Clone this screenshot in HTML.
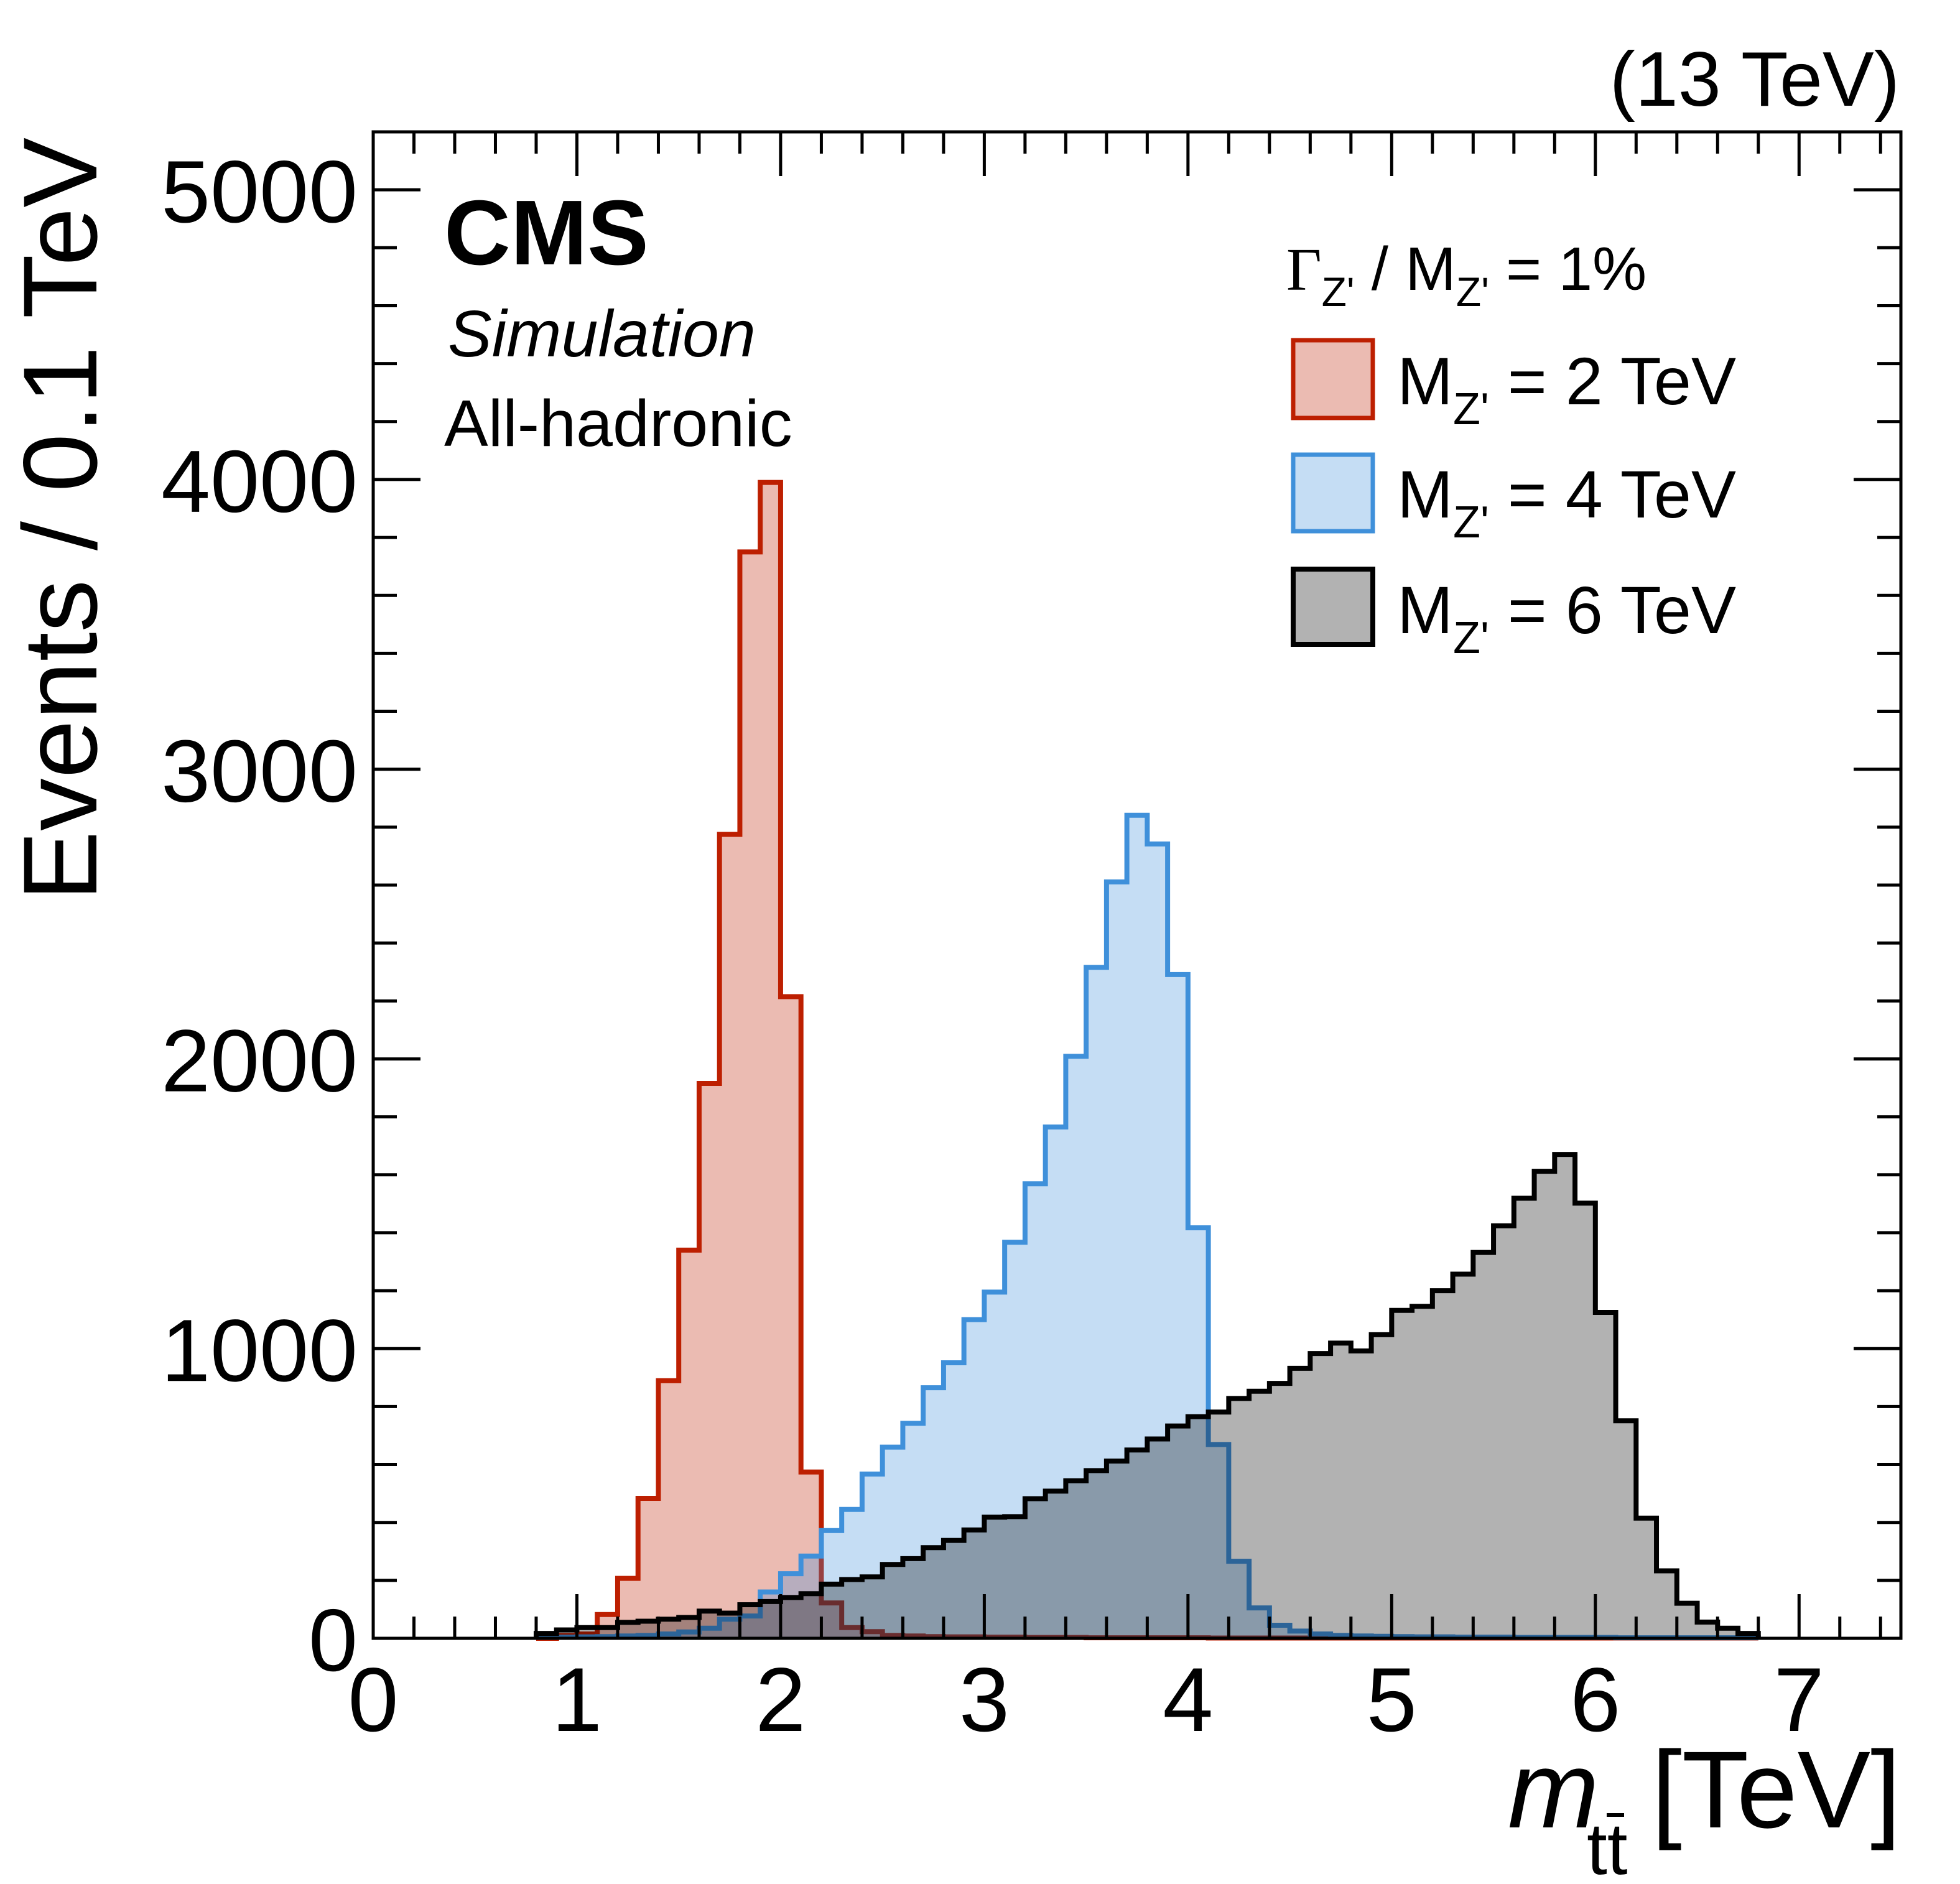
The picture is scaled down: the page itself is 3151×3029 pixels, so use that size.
<!DOCTYPE html>
<html><head><meta charset="utf-8"><style>
html,body{margin:0;padding:0;background:#fff;}
svg{display:block;font-family:"Liberation Sans",Arial,sans-serif;}
</style></head><body>
<svg id="chart" width="3151" height="3029" viewBox="0 0 3151 3029" xmlns="http://www.w3.org/2000/svg">
<rect width="3151" height="3029" fill="#fff"/>
<g id="hists"></g>
<g id="frame"></g>
<g id="xlabels"></g>
<g id="ylabels"></g>
<text transform="translate(155,221) rotate(-90)" text-anchor="end" font-size="169">Events / 0.1 TeV</text>
<g>
<text x="2424" y="2938" font-size="176" font-style="italic">m</text>
<text x="2551" y="3013" font-size="118">tt</text>
<line x1="2583" y1="2918" x2="2611" y2="2918" stroke="#000" stroke-width="6"/>
<text x="3056" y="2938" font-size="176" text-anchor="end">[TeV]</text>
</g>
<text x="3054" y="170" font-size="124" text-anchor="end">(13 TeV)</text>
<text x="714" y="425" font-size="148" font-weight="bold">CMS</text>
<text x="720" y="573" font-size="106" font-style="italic">Simulation</text>
<text x="714" y="717" font-size="106">All-hadronic</text>
<g>
<text x="2068" y="466" font-size="98"><tspan font-family="'Liberation Serif',serif">Γ</tspan><tspan font-size="66" dy="26">Z'</tspan><tspan dy="-26"> / M</tspan><tspan font-size="66" dy="26">Z'</tspan><tspan dy="-26"> = 1%</tspan></text>
<g>
<rect x="2079" y="547" width="128" height="125" fill="rgba(189,31,1,0.3)" stroke="#bd1f01" stroke-width="7"/>
<text x="2246" y="650" font-size="108">M<tspan font-size="72" dy="32">Z'</tspan><tspan dy="-32"> = 2 TeV</tspan></text></g>
<g>
<rect x="2079" y="731" width="128" height="123" fill="rgba(63,144,218,0.3)" stroke="#3f90da" stroke-width="7"/>
<text x="2246" y="832" font-size="108">M<tspan font-size="72" dy="32">Z'</tspan><tspan dy="-32"> = 4 TeV</tspan></text></g>
<g>
<rect x="2079" y="915" width="128" height="121" fill="rgba(0,0,0,0.3)" stroke="#000" stroke-width="8"/>
<text x="2246" y="1018" font-size="108">M<tspan font-size="72" dy="32">Z'</tspan><tspan dy="-32"> = 6 TeV</tspan></text></g>
</g>
</svg>
<script>
const binStart = 0.8;
const binWidth = 0.1;
const red2TeV = [0,10,15,82,207,483,889,1340,1915,2775,3750,3990,2215,574,122,37,23,10,8,6,5,5,4,4,3,3,3,2,2,2,2,2,2,1,1,1,1,1,1,1,1,1,1,1,1,1,1,1,1,1,1,1,1,1,1,1,1,1,1,1];
const blue4TeV = [3,4,5,6,8,10,15,22,35,66,77,160,223,284,372,445,567,660,742,865,951,1100,1195,1367,1569,1765,2009,2316,2611,2841,2742,2291,1417,669,266,105,45,25,15,10,8,7,6,5,5,4,4,4,3,3,3,3,3,2,2,2,2,2,2,2];
const black6TeV = [17,29,37,37,55,59,66,72,94,87,116,127,141,154,187,203,212,255,275,313,338,374,418,420,482,508,544,579,612,650,688,733,765,781,828,853,880,932,983,1019,992,1048,1132,1146,1200,1257,1332,1424,1519,1612,1670,1502,1125,751,415,233,121,56,35,17];
const xTicks = [0,1,2,3,4,5,6,7];
const yTicks = [0,1000,2000,3000,4000,5000];

const NS = "http://www.w3.org/2000/svg";
const X0 = 600, X1 = 3056, Y0 = 2634, Y1 = 212;
const xMax = 7.5, yMax = 5200;
function xs(v){ return X0 + (X1 - X0) * v / xMax; }
function ys(v){ return Y0 - (Y0 - Y1) * v / yMax; }
function mk(tag, attrs, parent){ const e = document.createElementNS(NS, tag); for (const k in attrs) e.setAttribute(k, attrs[k]); parent.appendChild(e); return e; }

const hists = document.getElementById('hists');
function drawHist(vals, fill, stroke, name){
  let d = "M" + xs(binStart) + "," + ys(0);
  for (let i = 0; i < vals.length; i++){
    const lo = binStart + i * binWidth, hi = lo + binWidth;
    d += " L" + xs(lo) + "," + ys(vals[i]) + " L" + xs(hi) + "," + ys(vals[i]);
  }
  d += " L" + xs(binStart + vals.length * binWidth) + "," + ys(0);
  const f = mk('path', {d: d + " Z", fill: fill, stroke: "none"}, hists);
  
  
  const l = mk('path', {d: d, fill: "none", stroke: stroke, "stroke-width": 8, "stroke-linejoin": "miter", "stroke-linecap": "butt"}, hists);
  
  
}
drawHist(red2TeV, "rgba(189,31,1,0.3)", "#bd1f01", "hist-2tev");
drawHist(blue4TeV, "rgba(63,144,218,0.3)", "#3f90da", "hist-4tev");
drawHist(black6TeV, "rgba(0,0,0,0.3)", "#000000", "hist-6tev");

const frame = document.getElementById('frame');
const box = mk('rect', {x: X0, y: Y1, width: X1 - X0, height: Y0 - Y1, fill: "none", stroke: "#000", "stroke-width": 5}, frame);


for (let k = 0; k <= 37; k++){
  const v = k * 0.2, x = xs(v), major = (k % 5 === 0), L = major ? 71 : 35;
  const t1 = mk('line', {x1: x, y1: Y0, x2: x, y2: Y0 - L, stroke: "#000", "stroke-width": 5}, frame);
  
  
  const t2 = mk('line', {x1: x, y1: Y1, x2: x, y2: Y1 + L, stroke: "#000", "stroke-width": 5}, frame);
  
  
}
for (let k = 0; k <= 26; k++){
  const v = k * 200, y = ys(v), major = (k % 5 === 0), L = major ? 76 : 38;
  const t1 = mk('line', {x1: X0, y1: y, x2: X0 + L, y2: y, stroke: "#000", "stroke-width": 5}, frame);
  
  
  const t2 = mk('line', {x1: X1, y1: y, x2: X1 - L, y2: y, stroke: "#000", "stroke-width": 5}, frame);
  
  
}
const xl = document.getElementById('xlabels');
xTicks.forEach(v => {
  const t = mk('text', {x: xs(v), y: 2783, "font-size": 146, "text-anchor": "middle"}, xl);
  t.textContent = v;
  
  
});
const yl = document.getElementById('ylabels');
yTicks.forEach(v => {
  const t = mk('text', {x: 575, y: ys(v) + 52, "font-size": 142, "text-anchor": "end"}, yl);
  t.textContent = v;
  
  
});
</script>
</body></html>
